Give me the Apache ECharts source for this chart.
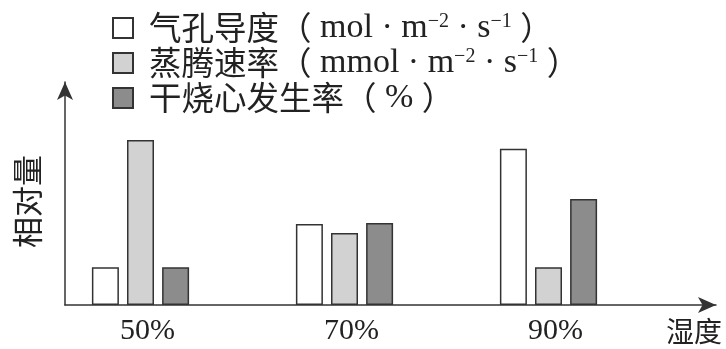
<!DOCTYPE html>
<html><head><meta charset="utf-8">
<script src="https://cdn.jsdelivr.net/npm/echarts@6/dist/echarts.min.js"></script>
<style>html,body{margin:0;padding:0;background:#fff}#c{width:726px;height:349px}</style>
</head><body><div id="c"></div>
<script>
const categories = ['50%', '70%', '90%'];
const seriesNames = ['气孔导度', '蒸腾速率', '干烧心发生率'];
const stomatal = [1.0, 2.14, 4.13];
const transpiration = [4.36, 1.9, 1.0];
const dryHeart = [1.0, 2.17, 2.8];
const legendLabels = {
  '气孔导度': '{cn|气孔导度}{cn|（}{en| mol · m}{sup|−2}{en| · s}{sup|−1}{en| }{cn|）}',
  '蒸腾速率': '{cn|蒸腾速率}{cn|（}{en| mmol · m}{sup|−2}{en| · s}{sup|−1}{en| }{cn|）}',
  '干烧心发生率': '{cn|干烧心发生率}{cn|（}{en| % }{cn|）}'
};
const yName = '相对量';
const xName = '湿度';

const CN = '"Noto Sans CJK SC", sans-serif';
const EN = '"Liberation Serif", "Noto Sans CJK SC", serif';
const colors = ['#ffffff', '#d2d2d2', '#8c8c8c'];
const values = [stomatal, transpiration, dryHeart];

const chart = echarts.init(document.getElementById('c'), null, {renderer: 'canvas'});
chart.setOption({
  animation: false,
  backgroundColor: '#fff',
  grid: [
    {left: 38.5, right: 75.5, top: 78, bottom: 44},
    {left: 65, right: 10, top: 82, bottom: 44}
  ],
  legend: {
    orient: 'vertical', left: 107, top: 6, itemWidth: 20, itemHeight: 20, itemGap: 1,
    icon: 'rect',
    data: seriesNames,
    formatter: n => legendLabels[n],
    textStyle: {
      color: '#222', lineHeight: 32, padding: [0, 0, 0, 11],
      rich: {
        cn: {fontFamily: CN, fontSize: 32.5, lineHeight: 32, color: '#222'},
        en: {fontFamily: EN, fontSize: 34, lineHeight: 32, color: '#222'},
        sup: {fontFamily: EN, fontSize: 20, lineHeight: 20, padding: [0, 0, 12, 0], color: '#222'}
      }
    }
  },
  xAxis: [
    {type: 'category', gridIndex: 0, data: categories,
     axisLine: {show: false}, axisTick: {show: false},
     axisLabel: {fontFamily: EN, fontSize: 30, color: '#222', margin: 11, padding: [0, 0, 0, 14]}},
    {type: 'value', gridIndex: 1, min: 0, max: 1,
     axisLine: {show: true, symbol: ['none', 'arrow'], symbolSize: [12, 18], lineStyle: {color: '#333', width: 1.5}},
     axisTick: {show: false}, axisLabel: {show: false}, splitLine: {show: false},
     name: xName, nameLocation: 'end', nameGap: 6,
     nameTextStyle: {fontFamily: CN, fontSize: 28, color: '#222', align: 'right', verticalAlign: 'top', padding: [12, 0, 0, 0]}}
  ],
  yAxis: [
    {type: 'value', gridIndex: 0, min: 0, max: 6, show: false},
    {type: 'value', gridIndex: 1, min: 0, max: 1,
     axisLine: {show: true, symbol: ['none', 'arrow'], symbolSize: [12, 18], lineStyle: {color: '#333', width: 1.5}},
     axisTick: {show: false}, axisLabel: {show: false}, splitLine: {show: false},
     name: yName, nameLocation: 'middle', nameRotate: 90, nameGap: 22,
     nameTextStyle: {fontFamily: CN, fontSize: 31, color: '#222', padding: [0, 16, 0, 0]}}
  ],
  series: seriesNames.map((n, i) => ({
    name: n, type: 'bar', xAxisIndex: 0, yAxisIndex: 0,
    data: values[i], barWidth: 27, barGap: '30%',
    itemStyle: {color: colors[i], borderColor: '#333', borderWidth: 1.5}
  }))
});
</script></body></html>
